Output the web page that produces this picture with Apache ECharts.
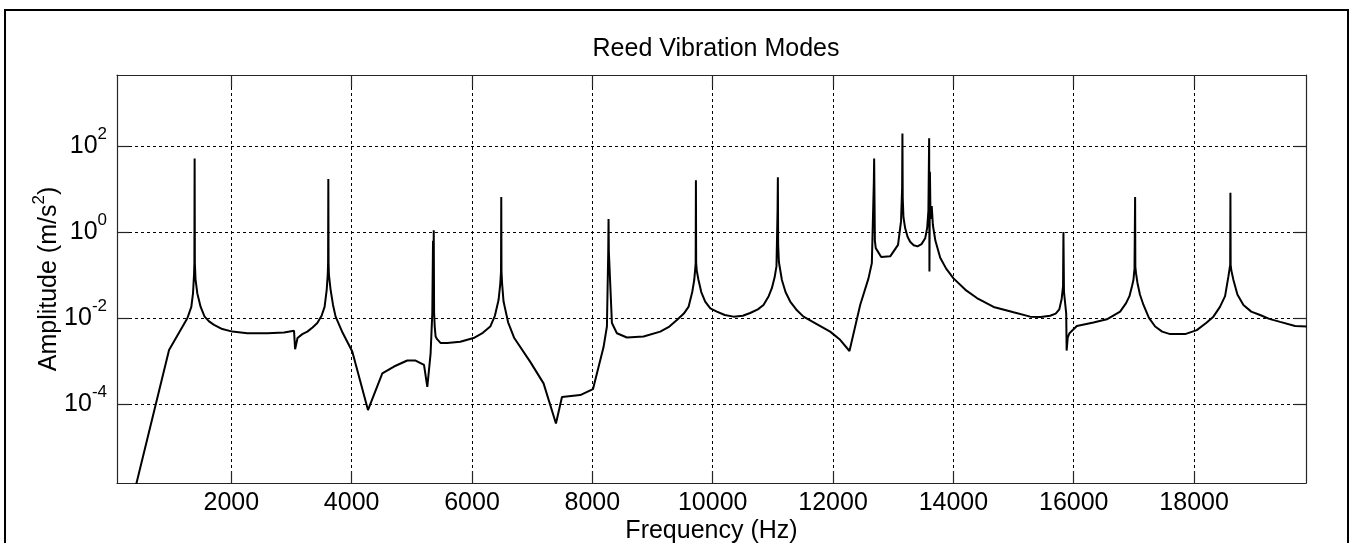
<!DOCTYPE html>
<html>
<head>
<meta charset="utf-8">
<script src="https://cdn.jsdelivr.net/npm/echarts@6/dist/echarts.min.js"></script>
<style>
html,body{margin:0;padding:0;background:#fff;}
#chart{width:1357px;height:543px;}
</style>
</head>
<body>
<div id="chart"></div>
<script>
// ---- data (frequency in Hz, amplitude in m/s^2) ----
const freqHz = [
  100, 965, 1269, 1335, 1363, 1380, 1386, 1390, 1394, 1405,
  1435, 1490, 1556, 1630, 1713, 1850, 2017, 2266, 2600, 2876,
  3042, 3050, 3060, 3100, 3180, 3263, 3350, 3429, 3500, 3550,
  3585, 3602, 3608, 3612, 3616, 3622, 3650, 3690, 3733, 3850,
  4010, 4271, 4509, 4703, 4924, 5062, 5202, 5257, 5312, 5340,
  5352, 5358, 5364, 5370, 5380, 5395, 5420, 5480, 5589, 5805,
  6026, 6180, 6303, 6380, 6441, 6470, 6482, 6486, 6490, 6500,
  6524, 6600, 6702, 6968, 7189, 7395, 7495, 7799, 8010, 8186,
  8242, 8264, 8269, 8274, 8325, 8408, 8574, 8851, 9128, 9280,
  9405, 9520, 9598, 9660, 9693, 9710, 9717, 9721, 9725, 9735,
  9764, 9810, 9875, 9960, 10069, 10200, 10346, 10500, 10623, 10750,
  10844, 10930, 10983, 11030, 11060, 11078, 11083, 11088, 11100, 11150,
  11210, 11288, 11400, 11509, 11700, 11952, 12118, 12273, 12451, 12589,
  12645, 12678, 12683, 12695, 12710, 12800, 12950, 13080, 13130, 13148,
  13153, 13158, 13170, 13198, 13240, 13281, 13340, 13403, 13470, 13531,
  13565, 13585, 13597, 13602, 13610, 13620, 13640, 13659, 13700, 13781,
  13880, 14002, 14200, 14391, 14668, 15000, 15276, 15450, 15608, 15700,
  15760, 15800, 15822, 15829, 15838, 15875, 15882, 15900, 15929, 16052,
  16328, 16550, 16771, 16870, 16926, 16970, 16992, 17010, 17016, 17020,
  17024, 17035, 17059, 17100, 17159, 17250, 17353, 17470, 17602, 17851,
  18045, 18200, 18321, 18430, 18515, 18570, 18600, 18604, 18608, 18620,
  18654, 18720, 18820, 18950, 19097, 19250, 19430, 19679, 19873
];
const amplitude = [
  2.0e-8, 1.8e-3, 9.8e-3, 1.8e-2, 3.7e-2, 0.1, 0.19, 51, 0.19, 7.9e-2,
  3.7e-2, 1.8e-2, 1.07e-2, 8.3e-3, 6.9e-3, 5.5e-3, 4.8e-3, 4.4e-3, 4.4e-3, 4.6e-3,
  5.0e-3, 5.2e-3, 1.86e-3, 3.4e-3, 4.2e-3, 4.8e-3, 6.0e-3, 7.6e-3, 1.12e-2, 1.8e-2,
  4.5e-2, 0.1, 0.19, 17, 0.19, 0.1, 4.5e-2, 2.0e-2, 1.07e-2, 4.5e-3,
  1.66e-3, 7.2e-5, 5.1e-4, 7.4e-4, 1.02e-3, 1.02e-3, 8.1e-4, 2.5e-4, 1.5e-3, 1.3e-2,
  0.62, 2.5e-2, 1.1, 1.3e-2, 6.3e-3, 3.7e-3, 3.2e-3, 2.6e-3, 2.6e-3, 2.8e-3,
  3.4e-3, 4.5e-3, 6.3e-3, 1.12e-2, 2.6e-2, 6.3e-2, 0.12, 6.5, 0.12, 6.3e-2,
  2.4e-2, 7.9e-3, 3.4e-3, 9.5e-4, 3.0e-4, 3.5e-5, 1.45e-4, 1.6e-4, 2.2e-4, 2.1e-3,
  6.3e-3, 0.35, 2.0, 0.35, 7.6e-3, 4.4e-3, 3.5e-3, 3.7e-3, 4.8e-3, 6.3e-3,
  8.9e-3, 1.26e-2, 1.8e-2, 4.0e-2, 7.6e-2, 0.14, 0.19, 16, 0.19, 0.126,
  7.6e-2, 4.0e-2, 2.4e-2, 1.66e-2, 1.4e-2, 1.17e-2, 1.07e-2, 1.12e-2, 1.3e-2, 1.58e-2,
  2.0e-2, 3.2e-2, 4.9e-2, 8.9e-2, 0.16, 3.2, 18.6, 0.5, 0.2, 7.6e-2,
  4.0e-2, 2.4e-2, 1.5e-2, 1.07e-2, 7.6e-3, 4.8e-3, 3.1e-3, 1.7e-3, 2.0e-2, 8.3e-2,
  0.19, 14.8, 51, 0.63, 0.42, 0.26, 0.27, 0.5, 1.78, 10.5,
  195, 6.3, 2.2, 1.23, 0.76, 0.59, 0.49, 0.46, 0.52, 0.71,
  1.26, 3.2, 151, 0.12, 25, 2.0, 4.0, 1.45, 0.63, 0.25,
  0.14, 8.3e-2, 4.5e-2, 2.9e-2, 1.8e-2, 1.35e-2, 1.07e-2, 1.05e-2, 1.12e-2, 1.26e-2,
  1.58e-2, 2.8e-2, 5.4e-2, 1.0, 4.0e-2, 1.26e-2, 1.74e-3, 3.5e-3, 4.4e-3, 6.5e-3,
  7.8e-3, 9.3e-3, 1.4e-2, 2.2e-2, 3.2e-2, 5.6e-2, 7.6e-2, 0.14, 0.155, 6.5,
  0.155, 0.11, 6.5e-2, 3.5e-2, 2.0e-2, 1.0e-2, 6.3e-3, 4.8e-3, 4.2e-3, 4.2e-3,
  5.2e-3, 7.6e-3, 1.07e-2, 1.8e-2, 3.2e-2, 9.1e-2, 0.17, 8.1, 0.17, 0.126,
  7.6e-2, 3.5e-2, 2.0e-2, 1.4e-2, 1.17e-2, 9.5e-3, 8.1e-3, 6.5e-3, 6.3e-3
];
const xTicks = [2000, 4000, 6000, 8000, 10000, 12000, 14000, 16000, 18000];
const yTicks = [1e-4, 1e-2, 1, 1e2];
const xRange = [100, 19860];
const yRange = [1.445e-6, 4467];
const titleText = 'Reed Vibration Modes';
const xName = 'Frequency (Hz)';
const yNameMain = 'Amplitude (m/s';
const yNameSup = '2';

const FONT = '"Liberation Sans", Arial, sans-serif';
const FS = 25;
const AXIS_COLOR = '#262626';
const GRID_DASH = [3, 3];

const seriesData = freqHz.map((f, i) => [f, amplitude[i]]);

const chart = echarts.init(document.getElementById('chart'), null, {renderer: 'canvas'});

const yLabelFmt = v => '{b|10}{s|' + Math.round(Math.log10(v)) + '}';

chart.setOption({
  animation: false,
  backgroundColor: '#fff',
  textStyle: {fontFamily: FONT},
  title: {
    text: titleText,
    left: 711, top: 32, textAlign: 'center',
    textStyle: {fontFamily: FONT, fontSize: FS, fontWeight: 'normal', color: '#000'}
  },
  graphic: [{
    type: 'rect', z: 100, silent: true,
    shape: {x: 5, y: 10, width: 1343, height: 600},
    style: {fill: null, stroke: '#000', lineWidth: 2}
  }],
  grid: {left: 117, top: 75, right: 51, bottom: 60, show: false, containLabel: false, outerBoundsMode: 'none'},
  xAxis: [{
    type: 'value', position: 'bottom',
    min: xRange[0], max: xRange[1],
    name: xName, nameLocation: 'middle', nameGap: 36, nameMoveOverlap: false,
    nameTextStyle: {fontFamily: FONT, fontSize: FS, color: '#000'},
    axisLine: {show: true, onZero: false, lineStyle: {color: AXIS_COLOR, width: 1.2}},
    axisTick: {show: true, inside: true, length: 12, customValues: xTicks, lineStyle: {color: AXIS_COLOR, width: 1.2}},
    axisLabel: {show: true, customValues: xTicks, margin: 8, fontFamily: FONT, fontSize: FS, color: '#000', formatter: v => String(v)},
    splitLine: {show: true, lineStyle: {color: '#000', width: 1, type: GRID_DASH}}
  }, {
    type: 'value', position: 'top',
    min: xRange[0], max: xRange[1],
    axisLine: {show: true, onZero: false, lineStyle: {color: AXIS_COLOR, width: 1.2}},
    axisTick: {show: true, inside: true, length: 12, customValues: xTicks, lineStyle: {color: AXIS_COLOR, width: 1.2}},
    axisLabel: {show: false},
    splitLine: {show: false}
  }],
  yAxis: [{
    type: 'log', logBase: 10, position: 'left',
    min: yRange[0], max: yRange[1],
    name: '{a|' + yNameMain + '}{s|' + yNameSup + '}{a|)}',
    nameLocation: 'middle', nameGap: 50, nameRotate: 90, nameMoveOverlap: false,
    nameTextStyle: {
      fontFamily: FONT, color: '#000',
      rich: {
        a: {fontFamily: FONT, fontSize: FS, lineHeight: 36, color: '#000'},
        s: {fontFamily: FONT, fontSize: 17, lineHeight: 17, verticalAlign: 'top', color: '#000'}
      }
    },
    axisLine: {show: true, onZero: false, lineStyle: {color: AXIS_COLOR, width: 1.2}},
    axisTick: {show: true, inside: true, length: 12, customValues: yTicks, lineStyle: {color: AXIS_COLOR, width: 1.2}},
    minorTick: {show: false},
    axisLabel: {
      show: true, customValues: yTicks, margin: 10, formatter: yLabelFmt,
      rich: {
        b: {fontFamily: FONT, fontSize: FS, lineHeight: 40, color: '#000'},
        s: {fontFamily: FONT, fontSize: 17, lineHeight: 17, verticalAlign: 'top', color: '#000'}
      }
    },
    splitLine: {show: true, lineStyle: {color: '#000', width: 1, type: GRID_DASH}}
  }, {
    type: 'log', logBase: 10, position: 'right',
    min: yRange[0], max: yRange[1],
    axisLine: {show: true, onZero: false, lineStyle: {color: AXIS_COLOR, width: 1.2}},
    axisTick: {show: true, inside: true, length: 12, customValues: yTicks, lineStyle: {color: AXIS_COLOR, width: 1.2}},
    minorTick: {show: false},
    axisLabel: {show: false},
    splitLine: {show: false}
  }],
  series: [{
    type: 'line',
    xAxisIndex: 0, yAxisIndex: 0,
    data: seriesData,
    showSymbol: false,
    symbol: 'none',
    clip: true,
    lineStyle: {color: '#000', width: 2},
    z: 5
  }]
});
</script>
</body>
</html>
